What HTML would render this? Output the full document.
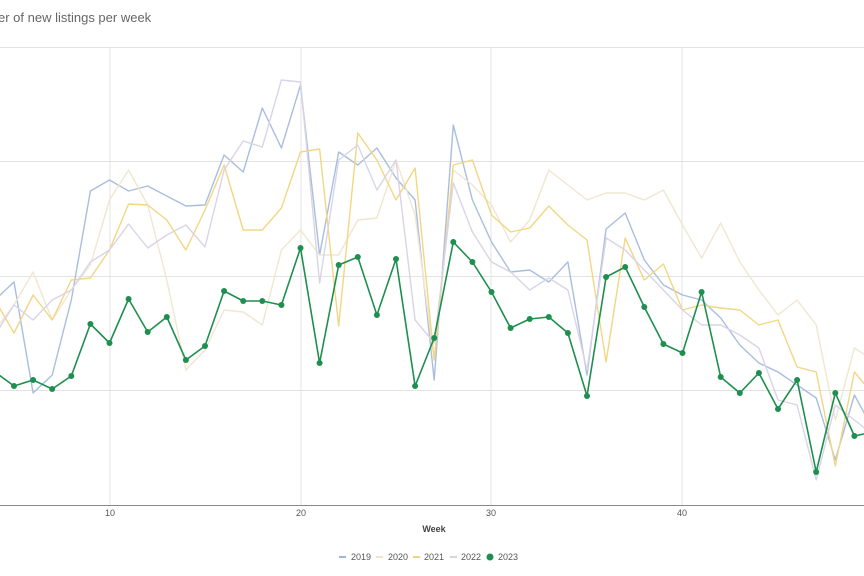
<!DOCTYPE html>
<html><head><meta charset="utf-8"><style>
html,body{margin:0;padding:0;background:#fff;}
svg{display:block;font-family:"Liberation Sans",Arial,sans-serif;}
</style></head><body>
<svg id="c" width="864" height="576" viewBox="0 0 864 576" xmlns="http://www.w3.org/2000/svg">
<text x="-2" y="22" font-size="13" fill="#666">er of new listings per week</text>
<g stroke="#e3e3e3" stroke-width="1">
<line x1="0" y1="47.5" x2="864" y2="47.5"/>
<line x1="0" y1="161.5" x2="864" y2="161.5"/>
<line x1="0" y1="276.5" x2="864" y2="276.5"/>
<line x1="0" y1="390.5" x2="864" y2="390.5"/>
<line x1="110" y1="47" x2="110" y2="505"/>
<line x1="301" y1="47" x2="301" y2="505"/>
<line x1="491" y1="47" x2="491" y2="505"/>
<line x1="682" y1="47" x2="682" y2="505"/>
</g>
<line x1="0" y1="505.5" x2="864" y2="505.5" stroke="#888" stroke-width="1"/>
<g font-size="9" fill="#555" text-anchor="middle">
<text x="110" y="516">10</text><text x="301" y="516">20</text><text x="491" y="516">30</text><text x="682" y="516">40</text>
</g>
<text x="434" y="532" font-size="9" fill="#444" text-anchor="middle" font-weight="bold">Week</text>
<g id="series"></g>
<g font-size="9" fill="#555">
<line x1="339" y1="557" x2="346" y2="557" stroke="#9fb6d9" stroke-width="2"/><text x="351" y="560">2019</text>
<line x1="376" y1="557" x2="383" y2="557" stroke="#f0e4cc" stroke-width="2"/><text x="388" y="560">2020</text>
<line x1="413" y1="557" x2="420" y2="557" stroke="#f2d27a" stroke-width="2"/><text x="424" y="560">2021</text>
<line x1="450" y1="557" x2="457" y2="557" stroke="#d8d3e6" stroke-width="2"/><text x="461" y="560">2022</text>
<circle cx="490" cy="557" r="3.5" fill="#1e8f4e"/><text x="498" y="560">2023</text>
</g>
</svg>
<script>
var X=function(w){return -81.5+19.1*w;};
var S=[
["#a9bedd",[300,282,393,375,300,191,180,191,186,196,206,205,155,172,108,148,85,255,152,165,148,178,200,380,125,200,242,272,270,282,262,375,229,213,260,285,295,300,318,345,363,372,385,398,460,395,430]],
["#f1e6d0",[330,305,272,320,290,265,200,170,205,280,370,350,310,312,325,250,230,255,255,220,218,160,215,360,170,185,205,242,220,170,185,200,193,193,200,190,225,258,223,262,290,315,300,325,420,348,360]],
["#f3d683",[300,333,295,320,280,278,250,204,205,220,250,210,165,230,230,208,152,149,326,133,160,200,168,360,165,160,215,232,228,206,225,240,362,238,280,264,310,305,308,310,325,320,367,372,466,372,395]],
["#d9d4e7",[335,305,320,300,290,262,250,224,248,235,225,247,170,141,147,80,82,283,160,145,190,160,320,343,183,232,262,272,290,278,290,370,238,250,270,290,310,325,325,335,348,400,405,480,405,420,435]],
["#1e8f4e",[372,386,380,389,376,324,343,299,332,317,360,346,291,301,301,305,248,363,265,257,315,259,386,338,242,262,292,328,319,317,333,396,277,267,307,344,353,292,377,393,373,409,380,472,393,436,432]]
];
var g=document.getElementById('series'),ns="http://www.w3.org/2000/svg";
S.forEach(function(s,i){
 var pts=s[1].map(function(y,k){return X(k+4).toFixed(1)+","+y;}).join(" ");
 var p=document.createElementNS(ns,"polyline");
 p.setAttribute("points",pts);p.setAttribute("fill","none");p.setAttribute("stroke",s[0]);
 p.setAttribute("stroke-width",i==4?"1.6":"1.4");p.setAttribute("stroke-linejoin","round");
 g.appendChild(p);
 if(i==4){s[1].forEach(function(y,k){var c=document.createElementNS(ns,"circle");c.setAttribute("cx",X(k+4));c.setAttribute("cy",y);c.setAttribute("r","3");c.setAttribute("fill",s[0]);g.appendChild(c);});}
});
</script>
</body></html>
